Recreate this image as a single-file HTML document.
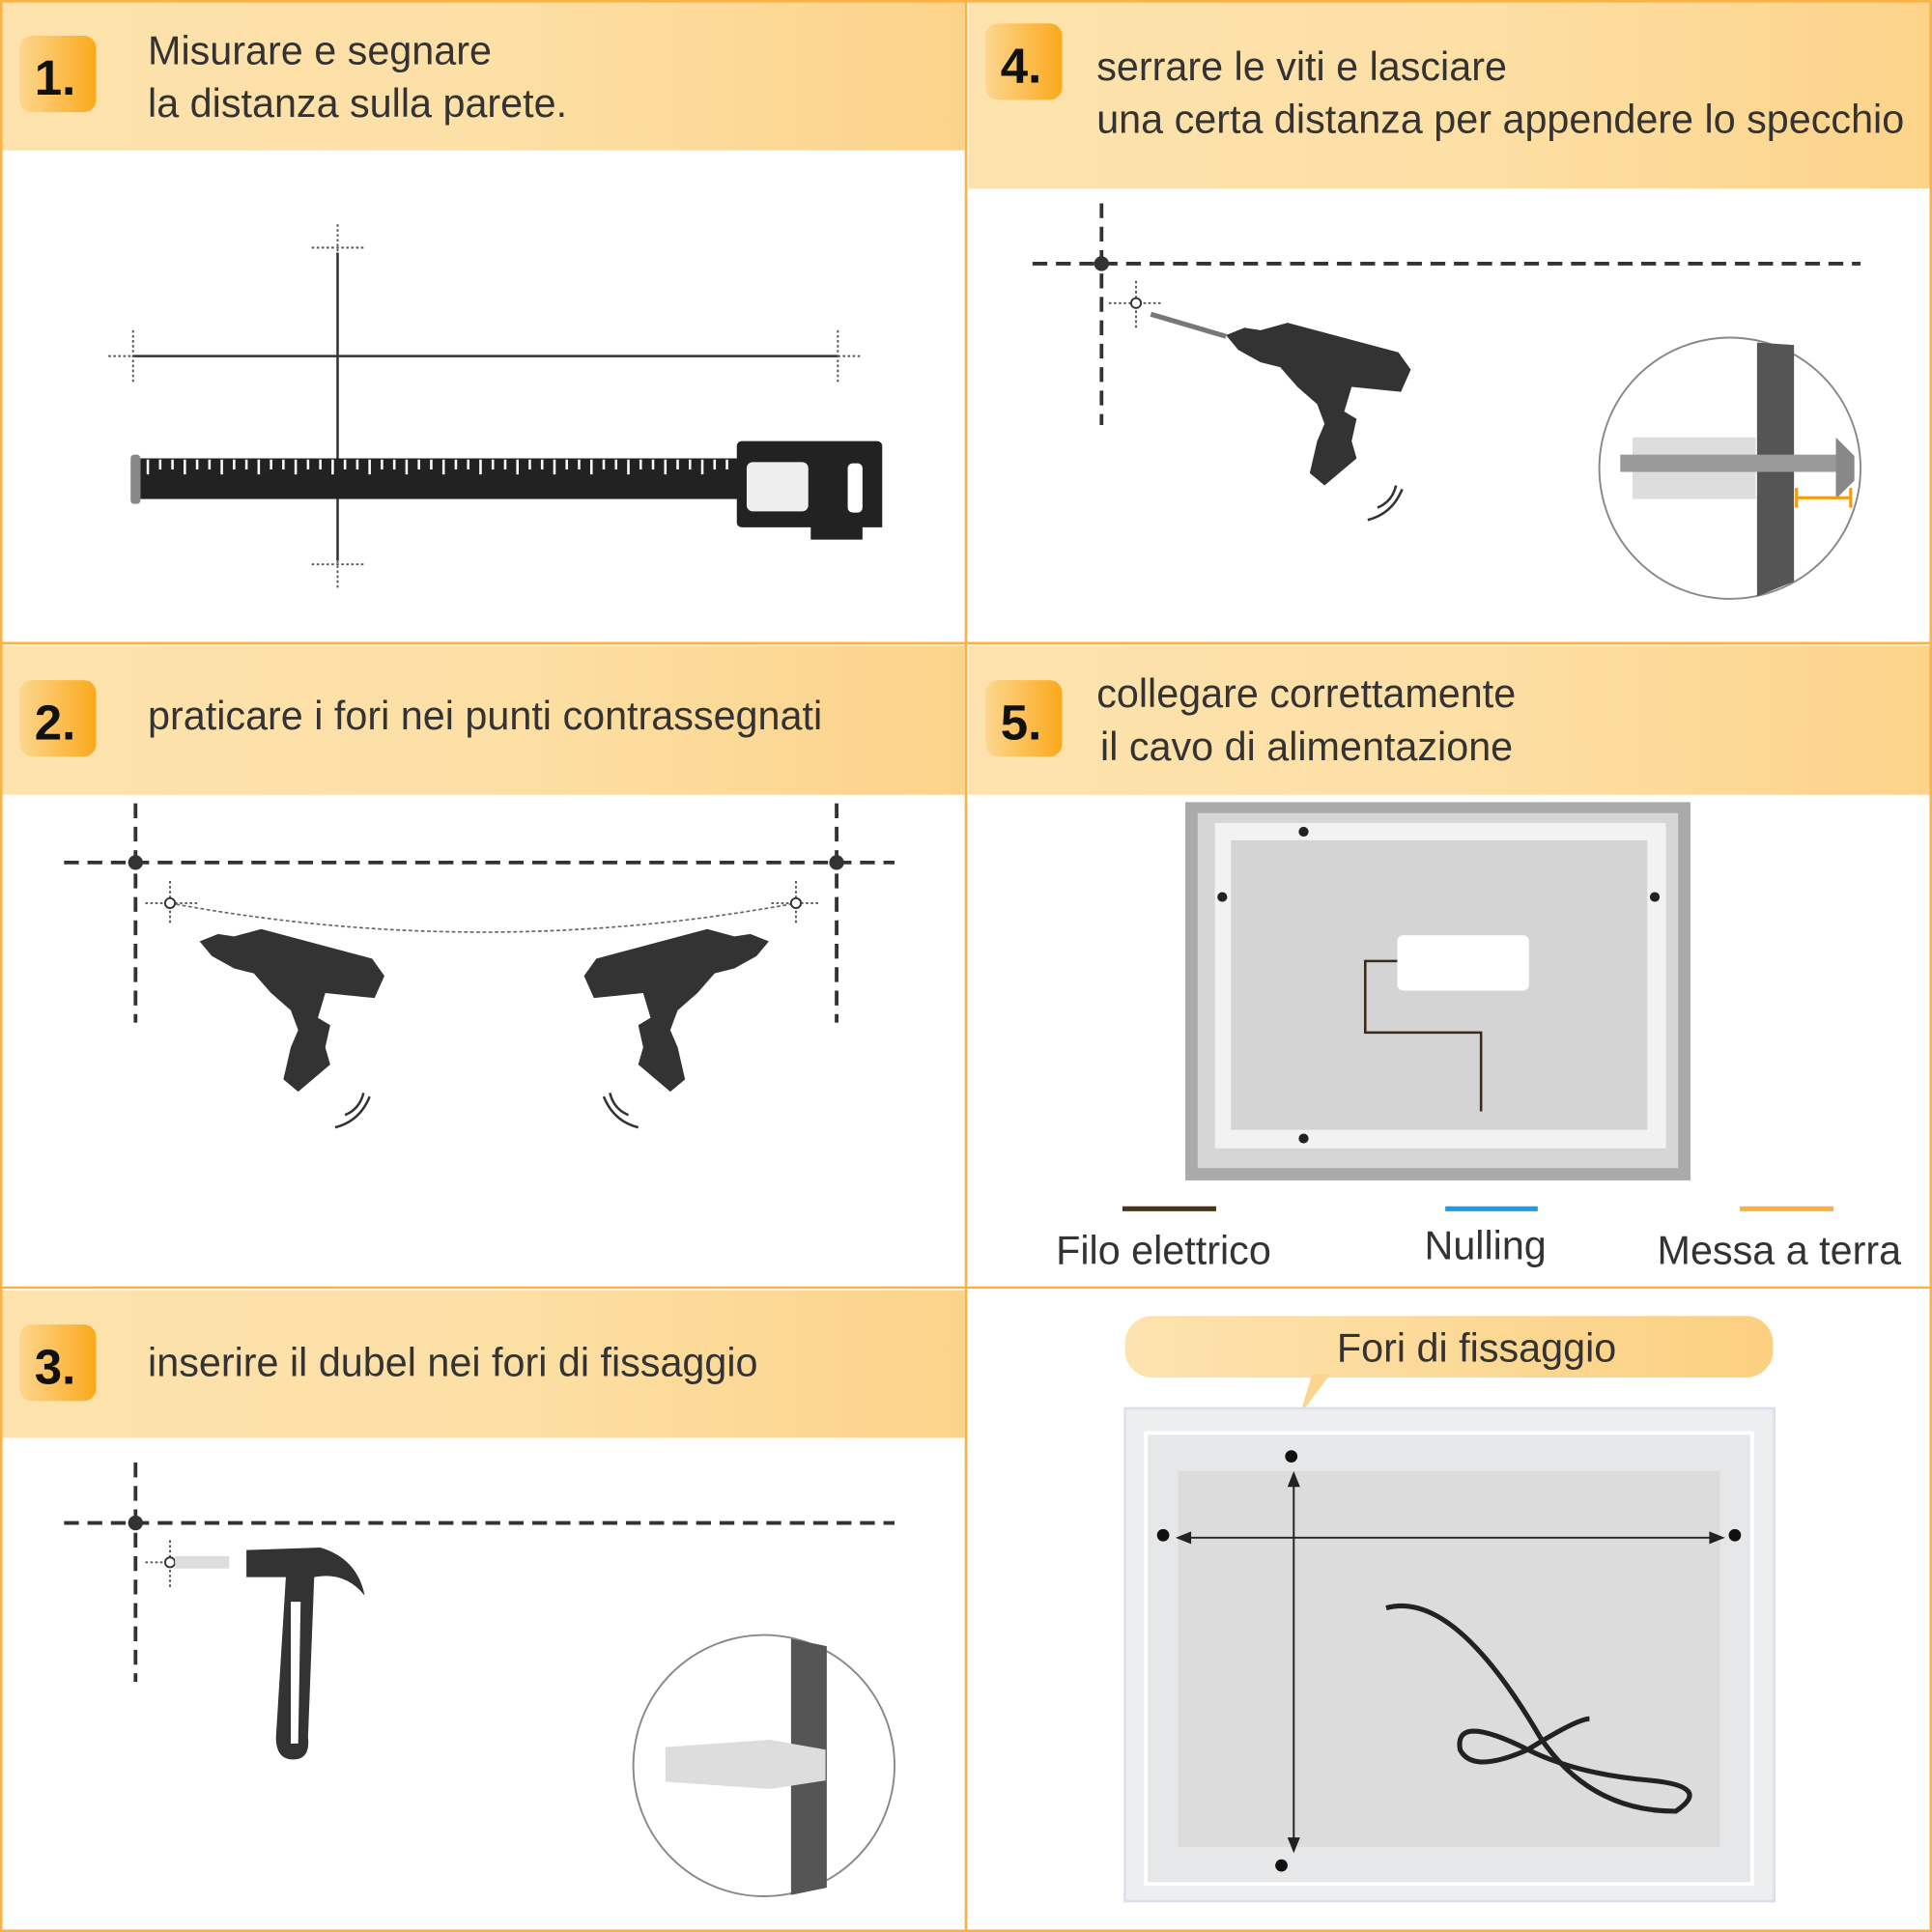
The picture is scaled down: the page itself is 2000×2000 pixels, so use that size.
<!DOCTYPE html>
<html><head><meta charset="utf-8"><style>
html,body{margin:0;padding:0;background:#fff}
svg{display:block}
text{font-family:"Liberation Sans",sans-serif}
</style></head><body>
<svg width="2000" height="2000" viewBox="0 0 1568 1568" xmlns="http://www.w3.org/2000/svg">
<defs>
<linearGradient id="hd" x1="0" x2="1" y1="0" y2="0">
<stop offset="0" stop-color="#fde2ad"/><stop offset="0.5" stop-color="#fde0a6"/><stop offset="1" stop-color="#fcd38a"/></linearGradient>
<linearGradient id="bd" x1="0" x2="1"><stop offset="0" stop-color="#fdd68e"/><stop offset="1" stop-color="#fba91c"/></linearGradient>
<linearGradient id="pl" x1="0" x2="1"><stop offset="0" stop-color="#fde3b0"/><stop offset="1" stop-color="#fcd080"/></linearGradient>
<path id="drill" d="M0,0 L15,-6 L28,-4 L50,-10 L140,14 L150,28 L142,46 L102,42 L96,62 L106,68 L102,86 L106,100 L80,122 L68,112 L74,86 L80,72 L74,56 L58,42 L44,26 L28,22 L10,12 Z" fill="#333"/>
</defs>
<rect width="1568" height="1568" fill="#fff"/>
<rect x="1" y="1" width="782" height="121" fill="url(#hd)"/>
<rect x="786" y="1" width="781" height="152" fill="url(#hd)"/>
<rect x="1" y="524" width="782" height="121" fill="url(#hd)"/>
<rect x="786" y="524" width="781" height="121" fill="url(#hd)"/>
<rect x="1" y="1047" width="782" height="120" fill="url(#hd)"/>
<g stroke="#f8b347" stroke-width="2" fill="none">
<rect x="1" y="1" width="1566" height="1566"/>
<line x1="784" y1="0" x2="784" y2="1568"/>
<line x1="0" y1="522" x2="1568" y2="522"/>
<line x1="0" y1="1045" x2="1568" y2="1045"/>
</g>
<g font-weight="bold" font-size="40" fill="#111">
<rect x="16" y="29" width="62" height="62" rx="10" fill="url(#bd)"/><text x="28" y="77">1.</text>
<rect x="800" y="19" width="62" height="62" rx="10" fill="url(#bd)"/><text x="812" y="67">4.</text>
<rect x="16" y="552" width="62" height="62" rx="10" fill="url(#bd)"/><text x="28" y="600">2.</text>
<rect x="800" y="552" width="62" height="62" rx="10" fill="url(#bd)"/><text x="812" y="600">5.</text>
<rect x="16" y="1075" width="62" height="62" rx="10" fill="url(#bd)"/><text x="28" y="1123">3.</text>
</g>
<g font-size="32.4" fill="#333">
<text x="120" y="52">Misurare e segnare</text>
<text x="120" y="95">la distanza sulla parete.</text>
<text x="890" y="65">serrare le viti e lasciare</text>
<text x="890" y="108">una certa distanza per appendere lo specchio</text>
<text x="120" y="592">praticare i fori nei punti contrassegnati</text>
<text x="890" y="574">collegare correttamente</text>
<text x="893" y="617">il cavo di alimentazione</text>
<text x="120" y="1117">inserire il dubel nei fori di fissaggio</text>
<text x="857" y="1026">Filo elettrico</text>
<text x="1156" y="1022">Nulling</text>
<text x="1345" y="1026">Messa a terra</text>
</g>
<g stroke="#333" stroke-width="2">
<line x1="274" y1="205" x2="274" y2="455"/>
<line x1="108" y1="289" x2="680" y2="289"/>
</g>
<g stroke="#555" stroke-width="1.5" stroke-dasharray="2 2">
<line x1="274" y1="182" x2="274" y2="205"/><line x1="253" y1="201" x2="295" y2="201"/>
<line x1="274" y1="455" x2="274" y2="478"/><line x1="253" y1="458" x2="295" y2="458"/>
<line x1="88" y1="289" x2="108" y2="289"/><line x1="108" y1="268" x2="108" y2="310"/>
<line x1="680" y1="289" x2="700" y2="289"/><line x1="680" y1="268" x2="680" y2="310"/>
</g>
<rect x="106" y="369" width="8" height="40" rx="3" fill="#888"/>
<rect x="114" y="372" width="490" height="33" fill="#222"/>
<g stroke="#fff" stroke-width="2">
<path d="M120,373v12M130,373v8M140,373v8M150,373v12M160,373v8M170,373v8M180,373v12M190,373v8M200,373v8M210,373v12M220,373v8M230,373v8M240,373v12M250,373v8M260,373v8M270,373v12M280,373v8M290,373v8M300,373v12M310,373v8M320,373v8M330,373v12M340,373v8M350,373v8M360,373v12M370,373v8M380,373v8M390,373v12M400,373v8M410,373v8M420,373v12M430,373v8M440,373v8M450,373v12M460,373v8M470,373v8M480,373v12M490,373v8M500,373v8M510,373v12M520,373v8M530,373v8M540,373v12M550,373v8M560,373v8M570,373v12M580,373v8M590,373v8"/>
</g>
<path d="M602,358 h110 a4,4 0 0 1 4,4 v66 h-16 v10 h-42 v-10 h-56 a4,4 0 0 1 -4,-4 v-62 a4,4 0 0 1 4,-4z" fill="#222"/>
<rect x="606" y="375" width="50" height="40" rx="5" fill="#eee"/>
<rect x="688" y="376" width="12" height="40" rx="4" fill="#fff"/>
<!-- panel 4 -->
<g stroke="#333" stroke-width="3" stroke-dasharray="12 7" fill="none">
<line x1="894" y1="165" x2="894" y2="345"/>
<line x1="838" y1="214" x2="1510" y2="214"/>
</g>
<circle cx="894" cy="214" r="6" fill="#333"/>
<g stroke="#555" stroke-width="1.5" stroke-dasharray="2 2"><line x1="900" y1="246" x2="944" y2="246"/><line x1="922" y1="228" x2="922" y2="266"/></g>
<circle cx="922" cy="246" r="4" fill="#fff" stroke="#333" stroke-width="1.5"/>
<line x1="934" y1="255" x2="995" y2="273" stroke="#777" stroke-width="4"/>
<use href="#drill" transform="translate(995,272)"/>
<path d="M1110,422 q20,-5 28,-25 M1118,412 q12,-5 15,-18" stroke="#333" stroke-width="2" fill="none"/>
<circle cx="1404" cy="380" r="106" fill="#fff" stroke="#888" stroke-width="1.5"/>
<path d="M1426,278 L1456,280 L1456,472 L1426,484 Z" fill="#555"/>
<path d="M1325,355 L1425,355 L1425,405 L1325,405 Z" fill="#ddd"/>
<rect x="1315" y="369" width="180" height="14" fill="#999"/>
<path d="M1490,355 L1505,370 L1505,390 L1490,405 Z" fill="#888"/>
<g stroke="#f39c12" stroke-width="2.5"><line x1="1458" y1="404" x2="1502" y2="404"/><line x1="1458" y1="396" x2="1458" y2="412"/><line x1="1502" y1="396" x2="1502" y2="412"/></g>
<!-- panel 2 -->
<g stroke="#333" stroke-width="3" stroke-dasharray="12 7" fill="none">
<line x1="110" y1="652" x2="110" y2="830"/>
<line x1="679" y1="652" x2="679" y2="830"/>
<line x1="52" y1="700" x2="726" y2="700"/>
</g>
<circle cx="110" cy="700" r="6" fill="#333"/><circle cx="679" cy="700" r="6" fill="#333"/>
<path d="M138,733 Q392,780 646,733" stroke="#666" stroke-width="1.3" stroke-dasharray="3 2" fill="none"/>
<g stroke="#555" stroke-width="1.5" stroke-dasharray="2 2"><line x1="118" y1="733" x2="160" y2="733"/><line x1="138" y1="715" x2="138" y2="751"/><line x1="626" y1="733" x2="666" y2="733"/><line x1="646" y1="715" x2="646" y2="751"/></g>
<circle cx="138" cy="733" r="4" fill="#fff" stroke="#333" stroke-width="1.5"/><circle cx="646" cy="733" r="4" fill="#fff" stroke="#333" stroke-width="1.5"/>
<use href="#drill" transform="translate(162,764)"/>
<use href="#drill" transform="translate(624,764) scale(-1,1)"/>
<path d="M272,915 q20,-5 28,-25 M280,905 q12,-5 15,-18" stroke="#333" stroke-width="2" fill="none"/>
<path d="M518,915 q-20,-5 -28,-25 M510,905 q-12,-5 -15,-18" stroke="#333" stroke-width="2" fill="none"/>
<!-- panel 3 -->
<g stroke="#333" stroke-width="3" stroke-dasharray="12 7" fill="none">
<line x1="110" y1="1187" x2="110" y2="1365"/>
<line x1="52" y1="1236" x2="726" y2="1236"/>
</g>
<circle cx="110" cy="1236" r="6" fill="#333"/>
<g stroke="#555" stroke-width="1.5" stroke-dasharray="2 2"><line x1="118" y1="1268" x2="140" y2="1268"/><line x1="138" y1="1250" x2="138" y2="1288"/></g>
<circle cx="138" cy="1268" r="4" fill="#fff" stroke="#333" stroke-width="1.5"/>
<rect x="142" y="1263" width="44" height="10" fill="#ddd"/>
<path d="M200,1258 L260,1256 Q290,1265 296,1295 Q280,1275 255,1280 L250,1410 Q252,1428 238,1428 Q224,1428 224,1410 L232,1280 L200,1280 Z" fill="#333"/>
<path d="M236,1300 L244,1300 L242,1415 L236,1415 Z" fill="#fff"/>
<circle cx="620" cy="1433" r="106" fill="#fff" stroke="#888" stroke-width="1.5"/>
<path d="M642,1330 L671,1336 L671,1532 L642,1538 Z" fill="#555"/>
<path d="M540,1418 L625,1412 L670,1420 L670,1445 L625,1452 L540,1446 Z" fill="#ddd"/>
<!-- panel 5 -->
<rect x="962" y="651" width="410" height="307" fill="#aaa"/>
<rect x="972" y="660" width="390" height="288" fill="#d6d6d6"/>
<rect x="986" y="668" width="366" height="264" fill="#f2f2f2"/>
<rect x="999" y="682" width="338" height="235" fill="#d4d4d4"/>
<rect x="1134" y="759" width="107" height="45" rx="5" fill="#fff"/>
<path d="M1134,780 H1108 V838 H1202 V902" stroke="#3a2a1a" stroke-width="2" fill="none"/>
<g fill="#222"><circle cx="1058" cy="675" r="4"/><circle cx="1058" cy="924" r="4"/><circle cx="992" cy="728" r="4"/><circle cx="1343" cy="728" r="4"/></g>
<line x1="911" y1="981" x2="987" y2="981" stroke="#4a3418" stroke-width="4"/>
<line x1="1173" y1="981" x2="1248" y2="981" stroke="#1e9be8" stroke-width="4"/>
<line x1="1412" y1="981" x2="1488" y2="981" stroke="#fbb040" stroke-width="4"/>
<!-- panel 6 -->
<rect x="913" y="1068" width="526" height="50" rx="22" fill="url(#pl)"/>
<path d="M1065,1115 L1080,1115 L1055,1148 Z" fill="#fcd58f"/>
<text x="1085" y="1105" font-size="32.4" fill="#333">Fori di fissaggio</text>
<rect x="913" y="1143" width="527" height="400" fill="#eceeef" stroke="#dde" stroke-width="2"/>
<rect x="930" y="1163" width="492" height="366" fill="#e6e7e8" stroke="#fff" stroke-width="3"/>
<rect x="956" y="1194" width="440" height="305" fill="#dcdcdc"/>
<g stroke="#222" stroke-width="1.5" fill="#222">
<line x1="1050" y1="1198" x2="1050" y2="1500"/>
<path d="M1050,1196 l-4,10 h8z M1050,1502 l-4,-10 h8z"/>
<line x1="958" y1="1248" x2="1396" y2="1248"/>
<path d="M956,1248 l10,-4 v8z M1398,1248 l-10,-4 v8z"/>
</g>
<g fill="#111"><circle cx="1048" cy="1182" r="5"/><circle cx="1040" cy="1514" r="5"/><circle cx="944" cy="1246" r="5"/><circle cx="1408" cy="1246" r="5"/></g>
<path d="M1125,1305 Q1180,1290 1250,1410 Q1290,1470 1360,1470 Q1390,1450 1340,1445 Q1280,1440 1240,1420 Q1180,1390 1185,1420 Q1195,1440 1240,1420 Q1280,1395 1290,1395" stroke="#222" stroke-width="4" fill="none"/>
</svg>
</body></html>
